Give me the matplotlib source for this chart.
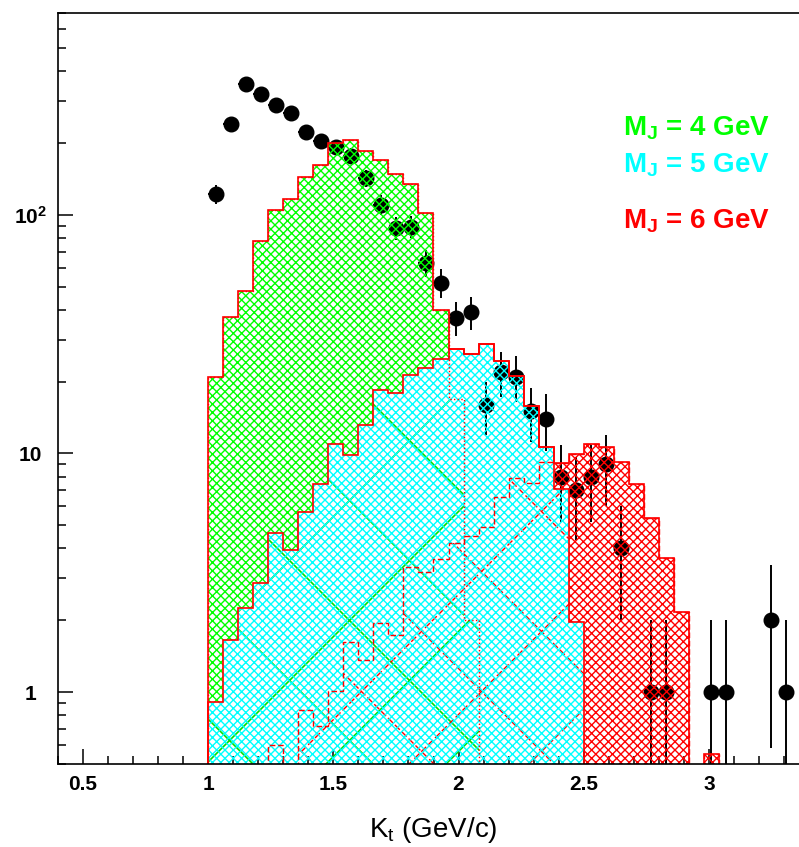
import numpy as np
import matplotlib
matplotlib.use("Agg")
import matplotlib.pyplot as plt
from matplotlib.collections import LineCollection
from matplotlib.transforms import Affine2D
from matplotlib.ticker import FixedLocator, LogLocator, MultipleLocator, NullFormatter

plt.rcParams['font.family'] = ['Liberation Sans', 'DejaVu Sans']
plt.rcParams['mathtext.fontset'] = 'custom'
plt.rcParams['mathtext.default'] = 'regular'
plt.rcParams['hatch.linewidth'] = 1.0

# ---- histogram binning (K_t, GeV/c) ----
kt_edges = [1.00, 1.06, 1.12, 1.18, 1.24, 1.30, 1.36, 1.42, 1.48, 1.54, 1.60,
            1.66, 1.72, 1.78, 1.84, 1.90, 1.96, 2.02, 2.08, 2.14, 2.20, 2.26,
            2.32, 2.38, 2.44, 2.50, 2.56, 2.62, 2.68, 2.74, 2.80, 2.86, 2.92,
            2.98, 3.04]

# model predictions for three jet masses
mj4_counts = [20.9, 37.3, 47.9, 77.9, 105, 116, 144, 162, 200, 205, 185, 170,
              148, 134, 102, 40, 16.9, 2.0,
              0, 0, 0, 0, 0, 0, 0, 0, 0, 0, 0, 0, 0, 0, 0, 0]
mj5_counts = [0.91, 1.66, 2.26, 2.87, 4.64, 3.94, 5.70, 7.45, 11.0, 9.88, 13.2,
              18.5, 17.9, 21.3, 22.8, 24.9, 27.4, 26.0, 28.6, 24.4, 21.2, 15.8,
              10.6, 7.1, 1.96,
              0, 0, 0, 0, 0, 0, 0, 0, 0]
mj6_counts = [0, 0, 0, 0, 0.6, 0, 0.84, 0.72, 1.01, 1.62, 1.37, 1.95, 1.73,
              3.33, 3.19, 3.6, 4.2, 4.5, 4.9, 6.6, 7.9, 7.5, 9.2, 9.1, 9.95,
              11.0, 10.6, 9.25, 7.45, 5.35, 3.64, 2.16, 0, 0.55]

# measured events per bin
kt_data = [1.03, 1.09, 1.15, 1.21, 1.27, 1.33, 1.39, 1.45, 1.51, 1.57, 1.63,
           1.69, 1.75, 1.81, 1.87, 1.93, 1.99, 2.05, 2.11, 2.17, 2.23, 2.29,
           2.35, 2.41, 2.47, 2.53, 2.59, 2.65, 2.71, 2.77, 2.83, 2.89, 2.95,
           3.01, 3.07, 3.13, 3.19, 3.25, 3.31]
n_data = [122, 239, 352, 319, 287, 268, 222, 203, 192, 177, 142, 110, 88, 89,
          63, 52, 37, 39, 16, 22, 21, 15, 14, 8, 7, 8, 9, 4, 0, 1, 1, 0, 0,
          1, 1, 0, 0, 2, 1]

legend_labels = ['M$_J$ = 4 GeV', 'M$_J$ = 5 GeV', 'M$_J$ = 6 GeV']
x_tick_vals = [0.5, 1.0, 1.5, 2.0, 2.5, 3.0]
x_tick_text = ['0.5', '1', '1.5', '2', '2.5', '3']
y_tick_vals = [1, 10, 100]
y_tick_text = ['1', '10', '10$^{2}$']

GREEN, CYAN, RED = '#00ff00', '#00ffff', '#ff0000'
FLOOR = 0.3  # below the visible range, stands in for empty bins on log axis

W, H, DPI = 799, 847, 100
fig = plt.figure(figsize=(W / DPI, H / DPI), dpi=DPI)
# square frame; its right edge runs just past the canvas
ax = fig.add_axes([58 / W, 83 / H, 751 / W, 751 / H])
ax.set_yscale('log')
ax.set_xlim(0.4, 3.4)
ax.set_ylim(0.5, 700)

edges = np.array(kt_edges)
m4 = np.where(np.array(mj4_counts) > 0, mj4_counts, FLOOR)
m5 = np.where(np.array(mj5_counts) > 0, mj5_counts, FLOOR)
m6 = np.where(np.array(mj6_counts) > 0, mj6_counts, FLOOR)
envelope = np.maximum(np.maximum(m4, m5), m6)

# data points with Poisson errors and bin-width horizontal bars
kt = np.array(kt_data)
n = np.array(n_data, dtype=float)
keep = n > 0
kt, n = kt[keep], n[keep]
err = np.sqrt(n)
lower = n - np.maximum(n - err, 1e-3)
ax.errorbar(kt, n, yerr=[lower, err], xerr=0.03, fmt='o', color='k',
            ms=10.5, elinewidth=1.4, capsize=0, zorder=2)

# parts of the 4 and 6 GeV shapes lying beneath the 5 GeV fill
m4_under = ax.stairs(np.minimum(m4, m5), edges, baseline=FLOOR, fill=True,
                     facecolor='none', edgecolor='none', lw=0, zorder=1)
m6_under = ax.stairs(np.minimum(m6, m5), edges, baseline=FLOOR, fill=True,
                     facecolor='none', edgecolor='none', lw=0, zorder=1)

# wide diagonal hatching drawn in canvas pixels (y downward)
to_fig = Affine2D().scale(1 / W, -1 / H).translate(0, 1) + fig.transFigure
X0, Y0, X1, Y1 = 58, 13, 809, 764


def diagonal_segments(period, phase_up, phase_down):
    segs = []
    c = phase_up - period * 20
    while c < X1 + Y1 + period:
        if c > X0 + Y0 - period:
            segs.append([(X0, c - X0), (X1, c - X1)])
        c += period
    c = phase_down - period * 20
    while c < X1 - Y0 + period:
        if c > X0 - Y1 - period:
            segs.append([(X0, X0 - c), (X1, X1 - c)])
        c += period
    return segs


green_lines = LineCollection(diagonal_segments(120, 10, 89), colors='#00e000',
                             linewidths=1.2, transform=to_fig, zorder=3)
ax.add_collection(green_lines, autolim=False)
green_lines.set_clip_path(m4_under)

red_lines = LineCollection(diagonal_segments(120, 93, 30), colors=RED,
                           linewidths=1.0, linestyles=[(0, (5, 2))],
                           transform=to_fig, zorder=3)
ax.add_collection(red_lines, autolim=False)
red_lines.set_clip_path(m6_under)

# dense cross-hatched fills
ax.stairs(m5, edges, baseline=FLOOR, fill=True, facecolor='none',
          edgecolor=CYAN, lw=0, hatch='xxxx', zorder=4)
ax.stairs(np.maximum(m4, m5), edges, baseline=m5, fill=True, facecolor='none',
          edgecolor=GREEN, lw=0, hatch='xxxx', zorder=4)
ax.stairs(np.maximum(m6, m5), edges, baseline=m5, fill=True, facecolor='none',
          edgecolor=RED, lw=0, hatch='xxxx', zorder=4)

# outlines: hidden parts broken, visible parts solid
ax.stairs(m4, edges, baseline=FLOOR, color=RED, lw=1.0, ls=':', zorder=5)
ax.stairs(m6, edges, baseline=FLOOR, color=RED, lw=1.0, ls=(0, (4, 2)), zorder=5)
ax.stairs(m5, edges, baseline=FLOOR, color=RED, lw=1.2, zorder=6)
ax.stairs(envelope, edges, baseline=FLOOR, color=RED, lw=1.2, zorder=6)

# labels for the three curves
for label, color, yy in zip(legend_labels, [GREEN, CYAN, RED],
                            [0.8375, 0.787, 0.7137]):
    ax.text(0.752, yy, label, color=color, fontsize=20, fontweight='bold',
            transform=ax.transAxes, ha='left', va='baseline', zorder=8)

# axes styling
ax.set_axisbelow(False)
for side in ['left', 'bottom', 'top', 'right']:
    ax.spines[side].set_linewidth(1.2)
    ax.spines[side].set_zorder(7)

ax.xaxis.set_major_locator(FixedLocator(x_tick_vals))
ax.set_xticklabels(x_tick_text)
ax.xaxis.set_minor_locator(MultipleLocator(0.1))
ax.yaxis.set_major_locator(FixedLocator(y_tick_vals))
ax.set_yticklabels(y_tick_text)
ax.yaxis.set_minor_locator(LogLocator(base=10, subs=np.arange(2, 10)))
ax.yaxis.set_minor_formatter(NullFormatter())

ax.tick_params(which='both', direction='in', top=False, right=False,
               width=1.1, colors='k', labelsize=15)
ax.tick_params(which='major', length=10.5)
ax.tick_params(which='minor', length=5.5)
ax.tick_params(axis='x', which='major', pad=8)
ax.tick_params(axis='y', which='major', pad=20)
for lbl in ax.get_xticklabels() + ax.get_yticklabels():
    lbl.set_fontweight('bold')
for lbl in ax.get_yticklabels():
    lbl.set_ha('center')

ax.set_xlabel('K$_t$ (GeV/c)', fontsize=20)
ax.xaxis.set_label_coords(0.5, -0.0879)
ax.xaxis.label.set_va('center')

fig.savefig('out.png', dpi=DPI)
